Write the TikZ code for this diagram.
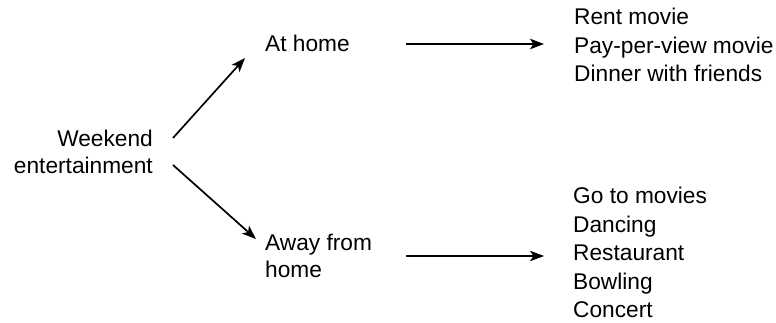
\documentclass[tikz,border=0pt]{standalone}
\usepackage{fontspec}
\setmainfont{Liberation Sans}
\usetikzlibrary{arrows.meta}
\begin{document}
\begin{tikzpicture}[x=1pt,y=-1pt,
  lbl/.style={inner sep=0pt, font=\fontsize{22.7}{28.4}\selectfont},
  arr/.style={line width=1.7pt, -{Stealth[length=14pt,width=10.5pt,inset=3.5pt]}}]
\useasboundingbox (0,0) rectangle (776,323);

% root and the two branches
\node[lbl, anchor=base east] (we1) at (153,147) {Weekend};
\node[lbl, anchor=base east] (we2) at (153,174) {entertainment};
\node[lbl, anchor=base west] (home) at (265,52) {At home};
\node[lbl, anchor=base west] (away1) at (265,250) {Away from};
\node[lbl, anchor=base west] (away2) at (265,277) {home};

% activities at home
\node[lbl, anchor=base west] (h1) at (574,25) {Rent movie};
\node[lbl, anchor=base west] (h2) at (574,53.4) {Pay-per-view movie};
\node[lbl, anchor=base west] (h3) at (574,81.8) {Dinner with friends};

% activities away from home
\node[lbl, anchor=base west] (a1) at (573,204) {Go to movies};
\node[lbl, anchor=base west] (a2) at (573,232.4) {Dancing};
\node[lbl, anchor=base west] (a3) at (573,260.8) {Restaurant};
\node[lbl, anchor=base west] (a4) at (573,289.2) {Bowling};
\node[lbl, anchor=base west] (a5) at (573,317.6) {Concert};

% connectors
\draw[arr] ([xshift=20pt,yshift=9pt]we1.base east) -- ([xshift=-20pt,yshift=-6pt]home.base west);
\draw[arr] ([xshift=20pt,yshift=9pt]we2.base east) -- ([xshift=-9pt,yshift=11pt]away1.base west);
\draw[arr] ([xshift=56.5pt,yshift=8pt]home.base east) -- ([xshift=-30pt,yshift=9.4pt]h2.base west);
\draw[arr] ([xshift=33.8pt,yshift=-6pt]away1.base east) -- ([xshift=-29pt,yshift=4.8pt]a3.base west);
\end{tikzpicture}
\end{document}
